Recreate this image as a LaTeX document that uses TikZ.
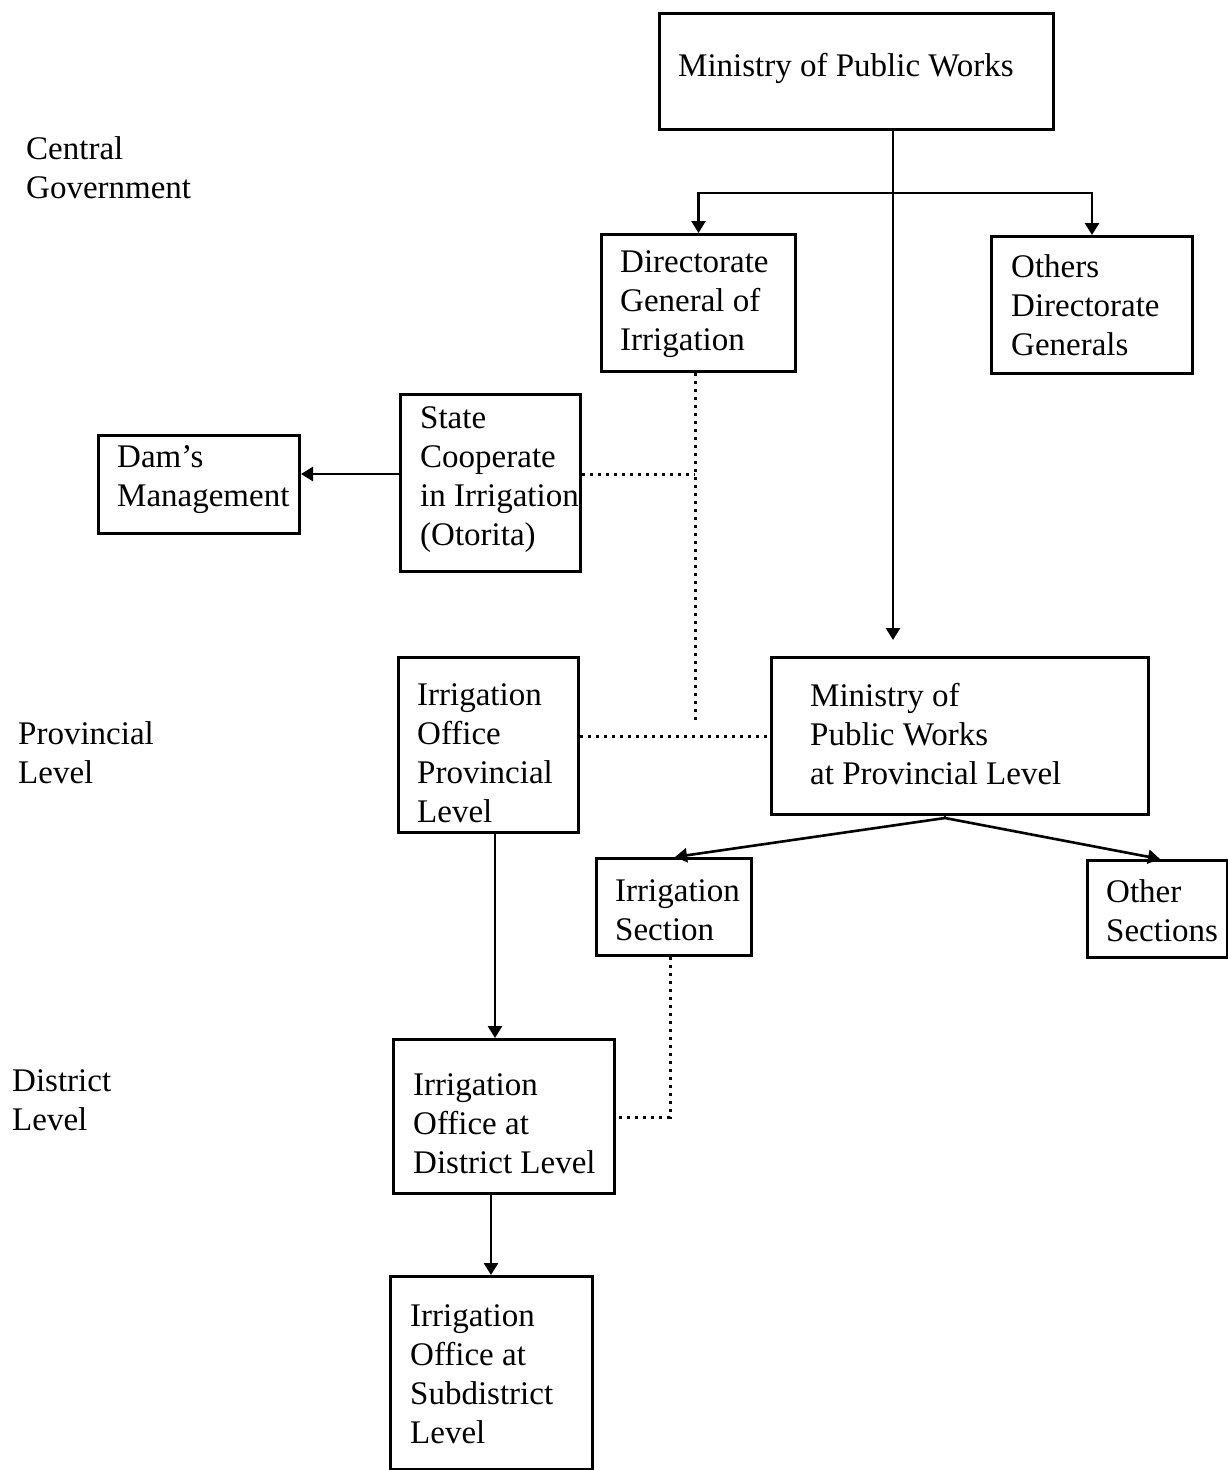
\documentclass[tikz,border=0pt]{standalone}
\usepackage{fontspec}
\setmainfont{Liberation Serif}
\usetikzlibrary{arrows.meta}
\begin{document}
\begin{tikzpicture}[x=1pt,y=-1pt,
  boxst/.style={draw,line width=3pt,inner sep=0pt,anchor=north west},
  lbl/.style={anchor=west,align=left,inner sep=0pt,font=\fontsize{33}{39}\selectfont},
  conn/.style={line width=2.6pt},
  arr/.style={line width=2.6pt,-{Triangle[width=14pt,length=12pt]}},
  dots/.style={line width=3pt,dash pattern=on 3pt off 5pt}]
\useasboundingbox (0,0) rectangle (1228,1470);
% boxes
\node[boxst,minimum width=394pt,minimum height=116pt] (mpw) at (658,12) {};
\node[boxst,minimum width=194pt,minimum height=137pt] (dg) at (600,233) {};
\node[boxst,minimum width=201pt,minimum height=137pt] (odg) at (990,235) {};
\node[boxst,minimum width=180pt,minimum height=177pt] (sci) at (399,393) {};
\node[boxst,minimum width=201pt,minimum height=98pt] (dam) at (97,434) {};
\node[boxst,minimum width=180pt,minimum height=175pt] (iop) at (397,656) {};
\node[boxst,minimum width=377pt,minimum height=157pt] (mpp) at (770,656) {};
\node[boxst,minimum width=155pt,minimum height=97pt] (isec) at (595,857) {};
\node[boxst,minimum width=140pt,minimum height=97pt] (osec) at (1086,859) {};
\node[boxst,minimum width=221pt,minimum height=154pt] (dist) at (392,1038) {};
\node[boxst,minimum width=202pt,minimum height=193pt] (sub) at (389,1275) {};
% texts
\node[lbl] (tmpw) at (678,68) {Ministry of Public Works};
\node[lbl] (tdg) at (620,304) {Directorate\\General of\\Irrigation};
\node[lbl] (todg) at (1011,305) {Others\\Directorate\\Generals};
\node[lbl] (tsci) at (420,480) {State\\Cooperate\\in Irrigation\\(Otorita)};
\node[lbl] (tdam) at (117,480) {Dam’s\\Management};
\node[lbl] (tiop) at (417,753) {Irrigation\\Office\\Provincial\\Level};
\node[lbl] (tmpp) at (810,734) {Ministry of\\Public Works\\at Provincial Level};
\node[lbl] (tisec) at (615,910) {Irrigation\\Section};
\node[lbl] (tosec) at (1106,911) {Other\\Sections};
\node[lbl] (tdist) at (413,1124) {Irrigation\\Office at\\District Level};
\node[lbl] (tsub) at (410,1374) {Irrigation\\Office at\\Subdistrict\\Level};
\node[lbl] (lcg) at (26,168) {Central\\Government};
\node[lbl] (lpl) at (18,753) {Provincial\\Level};
\node[lbl] (ldl) at (12,1100) {District\\Level};
% coordinates
\coordinate (main) at (893,640);
\coordinate (bar) at (893,193);
\coordinate (dgend) at (695,720);
\coordinate (scij) at (695,474);
\coordinate (provj) at (0,736);
\coordinate (apex) at (945,818);
\coordinate (isj) at (670,1117);
\coordinate (iopx) at (495,0);
\coordinate (distx) at (491,0);
% connectors
\draw[arr] (mpw.south -| main) -- (main);
\draw[arr] (bar) -| (dg.north);
\draw[arr] (bar) -| (odg.north);
\draw[dots] (dg.south -| dgend) -- (dgend);
\draw[dots] (sci.east |- scij) -- (scij);
\draw[dots] (iop.east |- provj) -- (mpp.west |- provj);
\draw[arr] (sci.west |- scij) -- (dam.east |- scij);
\draw[arr] (iop.south -| iopx) -- (dist.north -| iopx);
\draw[conn] (mpp.south -| apex) -- (apex);
\draw[arr] (apex) -- (isec.north -| 675,0);
\draw[arr] (apex) -- (osec.north -| 1160,0);
\draw[dots] (isec.south -| isj) -- (isj) -- (dist.east |- isj);
\draw[arr] (dist.south -| distx) -- (sub.north -| distx);
\end{tikzpicture}
\end{document}
